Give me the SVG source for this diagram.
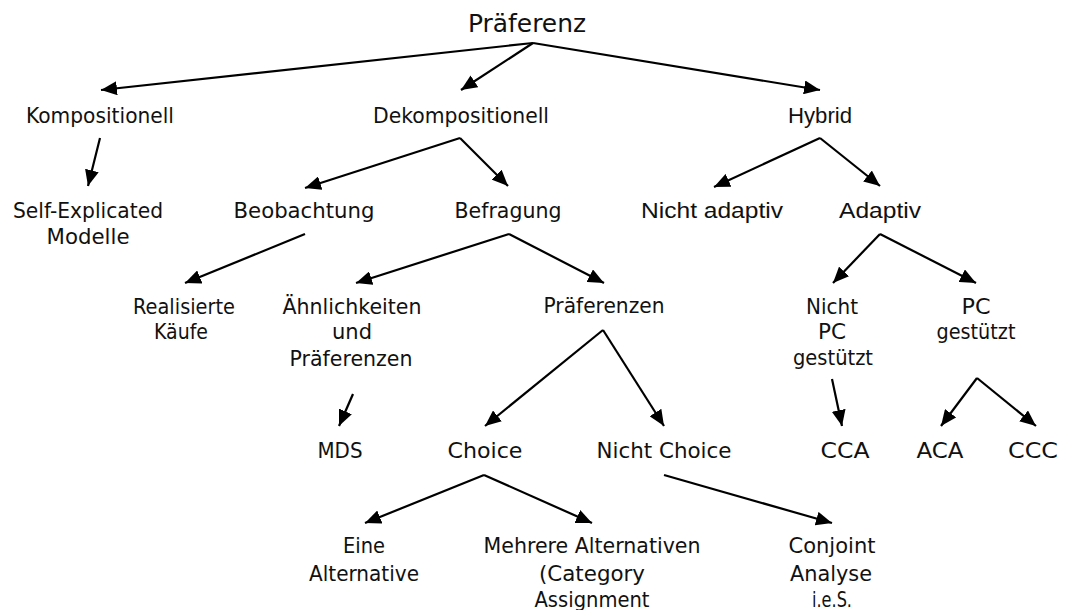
<svg xmlns="http://www.w3.org/2000/svg" width="1067" height="610" viewBox="0 0 1067 610">
<style>
text{fill:#111;text-anchor:middle}
.t{font-family:"DejaVu Sans","Liberation Sans",sans-serif;font-size:21px}
.h{font-family:"DejaVu Sans","Liberation Sans",sans-serif;font-size:24px}
.a{font-family:"Liberation Sans",Arial,sans-serif;font-size:22px}
.c path{stroke:#000;stroke-width:2.2;fill:none;marker-end:url(#ah)}
</style>
<defs>
<marker id="ah" viewBox="0 0 16 14" markerWidth="16" markerHeight="14" refX="16" refY="7" orient="auto" markerUnits="userSpaceOnUse"><path d="M0,0 L16,7 L0,14 z" fill="#000"/></marker>
</defs>
<rect width="1067" height="610" fill="#fff"/>
<g id="connectors" class="c">
<path d="M533,43 L101,90"/>
<path d="M533,43 L461,90"/>
<path d="M533,43 L820,90"/>
<path d="M100,138 L88,186"/>
<path d="M460,138 L305,188"/>
<path d="M460,138 L508,186"/>
<path d="M820,138 L714,187"/>
<path d="M820,138 L880,186"/>
<path d="M305,234 L185,283"/>
<path d="M509,234 L356,283"/>
<path d="M509,234 L604,283"/>
<path d="M880,234 L833,283"/>
<path d="M880,234 L976,283"/>
<path d="M353,394 L339,426"/>
<path d="M603,330 L485,426"/>
<path d="M603,330 L664,426"/>
<path d="M832,379 L842,426"/>
<path d="M977,378 L941,426"/>
<path d="M977,378 L1036,426"/>
<path d="M484,475 L365,523"/>
<path d="M484,475 L592,523"/>
<path d="M664,475 L832,523"/>
</g>
<g id="praeferenz"><text class="h" x="527" y="32" textLength="118" lengthAdjust="spacingAndGlyphs">Präferenz</text></g>
<g id="kompositionell"><text class="t" x="100" y="123" textLength="148" lengthAdjust="spacingAndGlyphs">Kompositionell</text></g>
<g id="dekompositionell"><text class="t" x="461" y="123" textLength="176" lengthAdjust="spacingAndGlyphs">Dekompositionell</text></g>
<g id="hybrid"><text class="a" x="820" y="123" textLength="64" lengthAdjust="spacingAndGlyphs">Hybrid</text></g>
<g id="self-explicated"><text class="t" x="88" y="218" textLength="150" lengthAdjust="spacingAndGlyphs">Self-Explicated</text><text class="t" x="88" y="244" textLength="83" lengthAdjust="spacingAndGlyphs">Modelle</text></g>
<g id="beobachtung"><text class="t" x="304" y="218" textLength="141" lengthAdjust="spacingAndGlyphs">Beobachtung</text></g>
<g id="befragung"><text class="t" x="508" y="218" textLength="107" lengthAdjust="spacingAndGlyphs">Befragung</text></g>
<g id="nicht-adaptiv"><text class="a" x="712" y="218" textLength="142" lengthAdjust="spacingAndGlyphs">Nicht adaptiv</text></g>
<g id="adaptiv"><text class="a" x="880" y="218" textLength="82" lengthAdjust="spacingAndGlyphs">Adaptiv</text></g>
<g id="realisierte-kaeufe"><text class="t" x="184" y="314" textLength="102" lengthAdjust="spacingAndGlyphs">Realisierte</text><text class="t" x="181" y="339" textLength="54" lengthAdjust="spacingAndGlyphs">Käufe</text></g>
<g id="aehnlichkeiten"><text class="t" x="352" y="314" textLength="139" lengthAdjust="spacingAndGlyphs">Ähnlichkeiten</text><text class="t" x="352" y="339" textLength="40" lengthAdjust="spacingAndGlyphs">und</text><text class="t" x="351" y="366" textLength="123" lengthAdjust="spacingAndGlyphs">Präferenzen</text></g>
<g id="praeferenzen"><text class="t" x="604" y="313" textLength="121" lengthAdjust="spacingAndGlyphs">Präferenzen</text></g>
<g id="nicht-pc-gestuetzt"><text class="t" x="832" y="314" textLength="52" lengthAdjust="spacingAndGlyphs">Nicht</text><text class="t" x="832" y="339" textLength="28" lengthAdjust="spacingAndGlyphs">PC</text><text class="t" x="833" y="365" textLength="80" lengthAdjust="spacingAndGlyphs">gestützt</text></g>
<g id="pc-gestuetzt"><text class="t" x="976" y="314" textLength="29" lengthAdjust="spacingAndGlyphs">PC</text><text class="t" x="976" y="339" textLength="79" lengthAdjust="spacingAndGlyphs">gestützt</text></g>
<g id="mds"><text class="t" x="340" y="458" textLength="45" lengthAdjust="spacingAndGlyphs">MDS</text></g>
<g id="choice"><text class="t" x="485" y="458" textLength="75" lengthAdjust="spacingAndGlyphs">Choice</text></g>
<g id="nicht-choice"><text class="t" x="664" y="458" textLength="135" lengthAdjust="spacingAndGlyphs">Nicht Choice</text></g>
<g id="cca"><text class="t" x="845" y="458" textLength="49" lengthAdjust="spacingAndGlyphs">CCA</text></g>
<g id="aca"><text class="t" x="940" y="458" textLength="47" lengthAdjust="spacingAndGlyphs">ACA</text></g>
<g id="ccc"><text class="t" x="1033" y="458" textLength="50" lengthAdjust="spacingAndGlyphs">CCC</text></g>
<g id="eine-alternative"><text class="t" x="364" y="553" textLength="42" lengthAdjust="spacingAndGlyphs">Eine</text><text class="t" x="364" y="581" textLength="110" lengthAdjust="spacingAndGlyphs">Alternative</text></g>
<g id="mehrere-alternativen"><text class="t" x="592" y="553" textLength="217" lengthAdjust="spacingAndGlyphs">Mehrere Alternativen</text><text class="t" x="592" y="581" textLength="106" lengthAdjust="spacingAndGlyphs">(Category</text><text class="t" x="592" y="607" textLength="115" lengthAdjust="spacingAndGlyphs">Assignment</text></g>
<g id="conjoint"><text class="t" x="832" y="553" textLength="87" lengthAdjust="spacingAndGlyphs">Conjoint</text><text class="t" x="831" y="581" textLength="82" lengthAdjust="spacingAndGlyphs">Analyse</text><text class="t" x="832" y="607" textLength="40" lengthAdjust="spacingAndGlyphs">i.e.S.</text></g>
</svg>
